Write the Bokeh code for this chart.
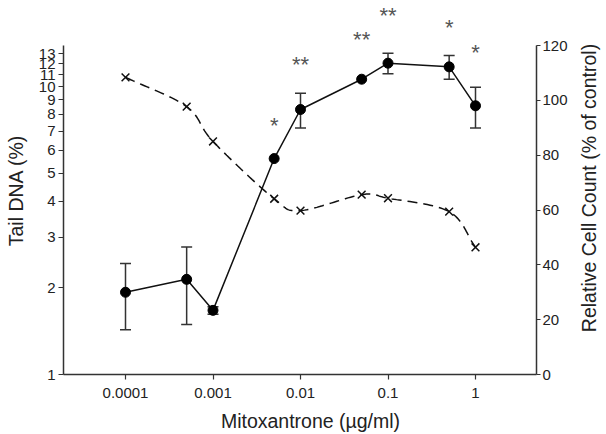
import math
import numpy as np
from bokeh.plotting import figure
from bokeh.models import (Range1d, LinearAxis, LinearScale, FixedTicker, CustomJSTickFormatter,
                          Whisker, TeeHead, ColumnDataSource, LabelSet, Label)
from bokeh.core.properties import value
from bokeh.embed import file_html
from bokeh.resources import INLINE

# ---- data ----
conc = [0.0001, 0.0005, 0.001, 0.005, 0.01, 0.05, 0.1, 0.5, 1]
tail_dna = [1.93, 2.14, 1.67, 5.62, 8.32, 10.6, 12.05, 11.7, 8.57]
cell_count = [108.4, 97.7, 85.0, 64.1, 59.8, 65.6, 64.3, 59.4, 46.4]

err_conc = [0.0001, 0.0005, 0.001, 0.01, 0.1, 0.5, 1]
err_low = [1.43, 1.49, 1.62, 7.17, 11.07, 10.6, 7.17]
err_high = [2.43, 2.77, 1.72, 9.48, 13.05, 12.8, 9.95]

sig_conc = [0.005, 0.01, 0.05, 0.1, 0.5, 1]
sig_text = ["*", "**", "**", "**", "*", "*"]
sig_y = [7.47, 12.26, 14.97, 18.14, 16.48, 13.49]

x_ticks = [0.0001, 0.001, 0.01, 0.1, 1]
left_ticks = list(range(1, 14))
right_ticks = [0, 20, 40, 60, 80, 100, 120]

x_label = "Mitoxantrone (\u00b5g/ml)"
left_label = "Tail DNA (%)"
right_label = "Relative Cell Count (% of control)"

# ---- layout (pixels) ----
W, H = 606, 434
AX_L, AX_R, AX_T, AX_B = 63, 536, 45, 374      # axis box on the canvas
X_DEC = 87.5                                    # px per decade on x
X0_PX = 125                                     # px of x = 1e-4
Y_DEC = 288.0                                   # px per decade on left axis
X_MIN, X_MAX = 1e-4, 10 ** ((AX_R - X0_PX) / X_DEC - 4)
Y_MIN, Y_MAX = 1.0, 10 ** ((AX_B - AX_T) / Y_DEC)
R_MIN, R_MAX = 0.0, 120.0

xr_lo = 10 ** (-4 - X0_PX / X_DEC)
xr_hi = 10 ** (-4 + (W - X0_PX) / X_DEC)
x_axis_start = 10 ** (-4 - (X0_PX - AX_L) / X_DEC)
yr_lo = 10 ** (-(H - AX_B) / Y_DEC)
yr_hi = 10 ** (AX_B / Y_DEC)
r_per_px = (R_MAX - R_MIN) / (AX_B - AX_T)
rr_lo = R_MIN - (H - AX_B) * r_per_px
rr_hi = R_MAX + AX_T * r_per_px

FONT = "Liberation Sans"
AX = "#333333"
TXT = "#222222"

p = figure(width=W, height=H, x_axis_type="log", y_axis_type="log",
           x_range=Range1d(xr_lo, xr_hi), y_range=Range1d(yr_lo, yr_hi),
           output_backend="svg", toolbar_location=None, min_border=0,
           min_border_left=0, min_border_right=0, min_border_top=0, min_border_bottom=0)
p.outline_line_color = None
p.xgrid.visible = False
p.ygrid.visible = False
p.background_fill_color = "white"
p.border_fill_color = "white"

p.extra_y_ranges = {"cell": Range1d(rr_lo, rr_hi)}
p.extra_y_scales = {"cell": LinearScale()}
rax = LinearAxis(y_range_name="cell")
p.add_layout(rax, "right")

fmt = CustomJSTickFormatter(code="return tick.toString();")
lax = p.left[0]
bax = p.below[0]
bax.ticker = FixedTicker(ticks=x_ticks, minor_ticks=[])
lax.ticker = FixedTicker(ticks=left_ticks, minor_ticks=[])
rax.ticker = FixedTicker(ticks=right_ticks, minor_ticks=[])
bax.formatter = fmt
lax.formatter = fmt

bax.fixed_location = Y_MIN
bax.bounds = (x_axis_start, X_MAX)
lax.fixed_location = x_axis_start
lax.bounds = (Y_MIN, Y_MAX)
rax.fixed_location = X_MAX
rax.bounds = (R_MIN, R_MAX)

for ax in [bax, lax, rax]:
    ax.axis_line_color = AX
    ax.axis_line_width = 1.5
    ax.major_tick_line_color = AX
    ax.major_tick_line_width = 1.2
    ax.major_tick_out = 5
    ax.major_tick_in = 0
    ax.minor_tick_line_color = None
    ax.major_label_text_font = FONT
    ax.major_label_text_font_size = "15px"
    ax.major_label_text_color = TXT
    ax.major_label_standoff = 3
bax.major_label_standoff = 8
rax.major_tick_out = 4
rax.major_label_standoff = 2

# axis titles (screen units: from the canvas bottom-left, y upwards)
lab_kw = dict(x_units="screen", y_units="screen", text_font=FONT,
              text_font_size="19.5px", text_color=TXT, text_baseline="alphabetic",
              text_align="center")
p.add_layout(Label(x=310, y=H - 420, text=x_label, **lab_kw))
p.add_layout(Label(x=15.5, y=H - 190, text=left_label, angle=math.pi / 2, **lab_kw))
p.add_layout(Label(x=588, y=H - 187.5, text=right_label, angle=math.pi / 2, **lab_kw))

# ---- cell count (smoothed dashed curve) ----
u = np.log10(np.array(conc, dtype=float))
v = np.array(cell_count, dtype=float)
pts = np.column_stack([u, v])
ext = np.vstack([2 * pts[0] - pts[1], pts, 2 * pts[-1] - pts[-2]])
cu, cv = [], []
for i in range(1, len(ext) - 2):
    p0, p1, p2, p3 = ext[i - 1], ext[i], ext[i + 1], ext[i + 2]
    for t in np.linspace(0, 1, 24, endpoint=False):
        t2, t3 = t * t, t * t * t
        q = 0.5 * ((2 * p1) + (-p0 + p2) * t + (2 * p0 - 5 * p1 + 4 * p2 - p3) * t2
                   + (-p0 + 3 * p1 - 3 * p2 + p3) * t3)
        cu.append(q[0]); cv.append(q[1])
cu.append(pts[-1][0]); cv.append(pts[-1][1])
p.line(x=list(10 ** np.array(cu)), y=cv, y_range_name="cell",
       line_color="#111111", line_width=1.5, line_dash="10 6")
p.scatter(x=conc, y=cell_count, y_range_name="cell", marker="x", size=11,
          line_color="#111111", line_width=1.5)

# ---- tail DNA ----
err_src = ColumnDataSource(dict(x=err_conc, lo=err_low, hi=err_high))
p.add_layout(Whisker(base="x", lower="lo", upper="hi", source=err_src,
                     dimension="height", line_color=AX, line_width=1.5,
                     upper_head=TeeHead(size=11, line_color=AX, line_width=1.5),
                     lower_head=TeeHead(size=11, line_color=AX, line_width=1.5)))
p.line(x=conc, y=tail_dna, line_color="#111111", line_width=1.5)
p.scatter(x=conc, y=tail_dna, size=10, fill_color="black", line_color="black")

sig_src = ColumnDataSource(dict(x=sig_conc, y=sig_y, t=sig_text))
p.add_layout(LabelSet(x="x", y="y", text="t", source=sig_src,
                      text_align="center", text_baseline="middle",
                      text_font=value(FONT), text_font_size=value("22px"),
                      text_color="#555555", y_offset=-3))

open("out.html", "w").write(file_html(p, INLINE))
